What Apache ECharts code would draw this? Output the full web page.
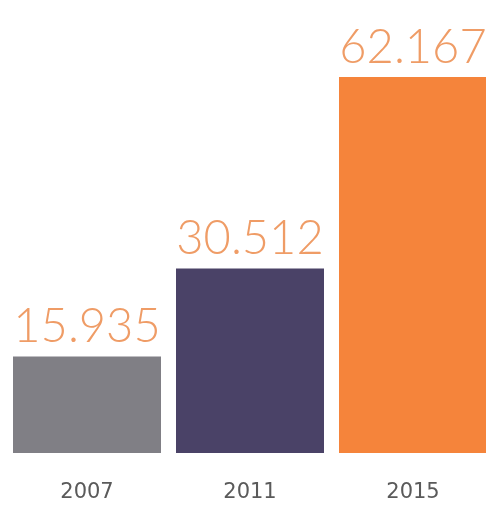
<!DOCTYPE html>
<html><head><meta charset="utf-8">
<script src="https://cdn.jsdelivr.net/npm/echarts@6/dist/echarts.min.js"></script>
<style>html,body{margin:0;padding:0;background:#fff;overflow:hidden}#c{width:495px;height:511px}</style>
</head><body><div id="c"></div>
<script>
const categories = ['2007', '2011', '2015'];
const values = [15.935, 30.512, 62.167];
const valueLabels = ['15.935', '30.512', '62.167'];
const barColors = ['#807f85', '#4a4267', '#f5843b'];

const chart = echarts.init(document.getElementById('c'), null, {renderer: 'canvas'});
chart.setOption({
  animation: false,
  backgroundColor: '#ffffff',
  grid: {left: 5.5, right: 0.5, top: 77, bottom: 58, containLabel: false},
  xAxis: {
    type: 'category', data: categories,
    axisLine: {show: false}, axisTick: {show: false},
    axisLabel: {color: '#5a5a5a', fontSize: 21, fontFamily: 'DejaVu Sans', margin: 29}
  },
  yAxis: {type: 'value', min: 0, max: 62.167, show: false, splitLine: {show: false}},
  series: [{
    type: 'bar', barWidth: 148,
    data: values.map((v, i) => ({value: v, itemStyle: {color: barColors[i]}})),
    label: {
      show: true, position: 'top', distance: 6,
      formatter: p => valueLabels[p.dataIndex],
      color: '#ef9c66', fontSize: 47, fontFamily: 'Lato', fontWeight: 300
    }
  }]
});
</script></body></html>
